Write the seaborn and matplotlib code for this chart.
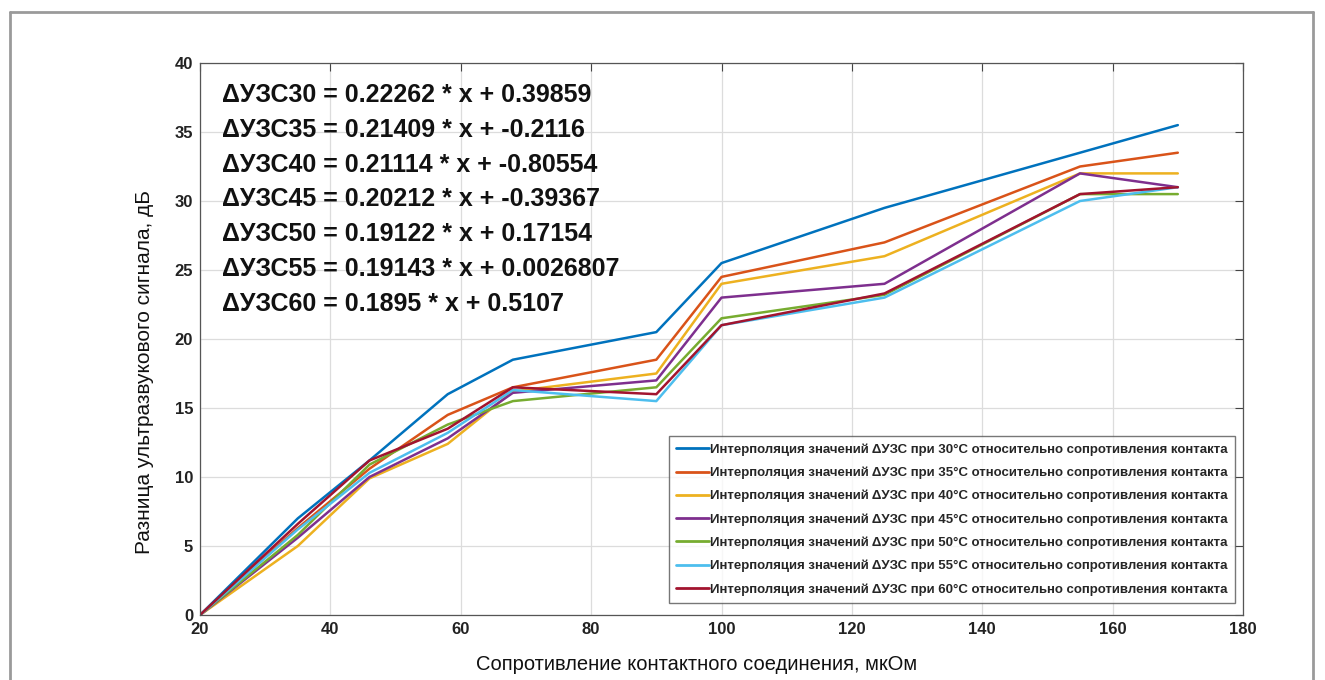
import matplotlib
matplotlib.use("Agg")
import matplotlib.pyplot as plt
import seaborn as sns
import pandas as pd
from matplotlib.lines import Line2D

# ---- data ----
resistance = [20, 35, 46, 58, 68, 90, 100, 125, 155, 170]
temps = ["30", "35", "40", "45", "50", "55", "60"]
d30 = [0, 7.0, 11.2, 16.0, 18.5, 20.5, 25.5, 29.5, 33.5, 35.5]
d35 = [0, 6.3, 10.6, 14.5, 16.5, 18.5, 24.5, 27.0, 32.5, 33.5]
d40 = [0, 5.0, 9.9, 12.4, 16.2, 17.5, 24.0, 26.0, 32.0, 32.0]
d45 = [0, 5.6, 10.0, 12.8, 16.1, 17.0, 23.0, 24.0, 32.0, 31.0]
d50 = [0, 5.8, 10.9, 13.8, 15.5, 16.5, 21.5, 23.2, 30.5, 30.5]
d55 = [0, 6.2, 10.3, 13.2, 16.3, 15.5, 21.0, 23.0, 30.0, 31.0]
d60 = [0, 6.6, 11.2, 13.5, 16.5, 16.0, 21.0, 23.3, 30.5, 31.0]
series = [d30, d35, d40, d45, d50, d55, d60]
equations = [
    "ΔУЗС30 = 0.22262 * x + 0.39859",
    "ΔУЗС35 = 0.21409 * x + -0.2116",
    "ΔУЗС40 = 0.21114 * x + -0.80554",
    "ΔУЗС45 = 0.20212 * x + -0.39367",
    "ΔУЗС50 = 0.19122 * x + 0.17154",
    "ΔУЗС55 = 0.19143 * x + 0.0026807",
    "ΔУЗС60 = 0.1895 * x + 0.5107",
]
xticks = [20, 40, 60, 80, 100, 120, 140, 160, 180]
yticks = [0, 5, 10, 15, 20, 25, 30, 35, 40]
xlabel = "Сопротивление контактного соединения, мкОм"
ylabel = "Разница ультразвукового сигнала, дБ"
colors = ["#0072BD", "#D95319", "#EDB120", "#7E2F8E", "#77AC30", "#4DBEEE", "#A2142F"]

labels = [f"Интерполяция значений ΔУЗС при {t}°С относительно сопротивления контакта" for t in temps]
rows = []
for lab, vals in zip(labels, series):
    for xv, yv in zip(resistance, vals):
        rows.append({"x": xv, "y": yv, "series": lab})
df = pd.DataFrame(rows)

sns.set_style("white")
plt.rcParams["font.family"] = ["Liberation Sans", "DejaVu Sans"]
narrow = ["Liberation Sans Narrow", "Liberation Sans", "DejaVu Sans"]

fig = plt.figure(figsize=(13.25, 6.8), dpi=100)
ax = fig.add_axes([200/1325, 1-615/680, 1043/1325, 552/680])

sns.lineplot(data=df, x="x", y="y", hue="series", palette=colors, hue_order=labels,
             estimator=None, sort=False, linewidth=1.8, ax=ax)

ax.set_xlim(20, 180)
ax.set_ylim(0, 40)
ax.set_xticks(xticks)
ax.set_yticks(yticks)
ax.set_xticklabels([str(v) for v in xticks], family=narrow, fontweight="bold", fontsize=12)
ax.set_yticklabels([str(v) for v in yticks], family=narrow, fontweight="bold", fontsize=12)
ax.tick_params(direction="in", length=6, width=0.8, color="#444444", top=True, right=True,
               labelcolor="#222222", pad=5)
ax.grid(True, color="#dcdcdc", linewidth=0.9)
ax.set_axisbelow(True)
for s in ax.spines.values():
    s.set_visible(True)
    s.set_color("#555555")
    s.set_linewidth(0.9)

ax.set_xlabel(xlabel, family=narrow, fontsize=14.5, color="#111111")
ax.set_ylabel(ylabel, family=narrow, fontsize=15, color="#111111")
ax.xaxis.set_label_coords((697-200)/1043, -(665-615)/552)
ax.yaxis.set_label_coords(-(200-145)/1043, (615-372)/552)
ax.xaxis.label.set_va("center")
ax.yaxis.label.set_va("center")

for i, eq in enumerate(equations):
    ax.text(222/1325, 1 - (95 + i*34.8)/680, eq, transform=fig.transFigure, fontsize=18,
            fontweight="bold", color="#111111", va="center", ha="left")

leg = ax.legend(loc="lower right", bbox_to_anchor=(1235/1325, 1-603/680), bbox_transform=fig.transFigure,
                prop={"family": "Liberation Sans", "weight": "bold", "size": 9.5},
                frameon=True, fancybox=False, edgecolor="#555555", handlelength=2.5,
                handletextpad=0.1, labelspacing=0.82, borderpad=0.55, borderaxespad=0)
leg.get_frame().set_linewidth(1.0)
for h in leg.get_lines():
    h.set_linewidth(2.0)

# outer gray frame
fx0, fy0, fx1 = 10/1325, 1-12/680, 1313/1325
for xs, ys in [([fx0, fx1], [fy0, fy0]), ([fx0, fx0], [fy0, 0]), ([fx1, fx1], [fy0, 0])]:
    fig.add_artist(Line2D(xs, ys, transform=fig.transFigure, color="#9a9a9a", linewidth=2))

fig.savefig("out.png", dpi=100)
